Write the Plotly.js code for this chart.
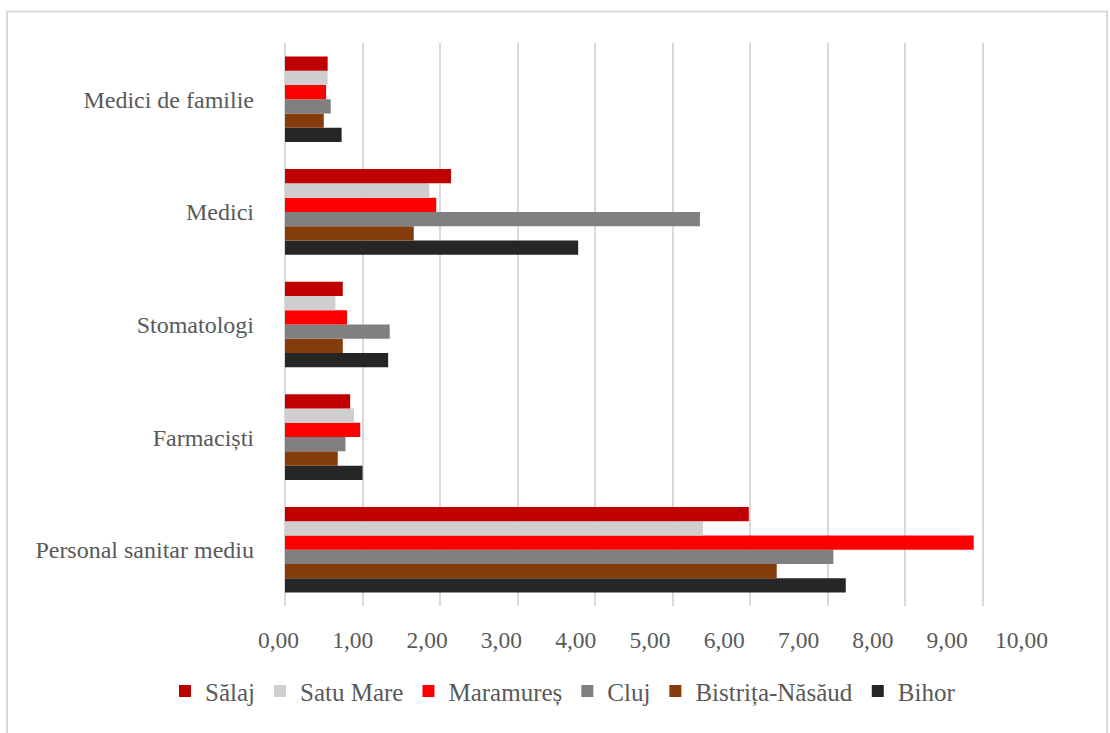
<!DOCTYPE html>
<html>
<head>
<meta charset="utf-8">
<script src="https://cdn.plot.ly/plotly-3.0.1.min.js"></script>
<style>html,body{margin:0;padding:0;background:#fff;}#chart{width:1110px;height:733px;}</style>
</head>
<body>
<div id="chart"></div>
<script>
// categories, bottom to top
const categories = ['Personal sanitar mediu', 'Farmaciști', 'Stomatologi', 'Medici', 'Medici de familie'];

// series values (same order as categories)
const bihor          = [7.23, 1.00, 1.33, 3.78, 0.73];
const bistritaNasaud = [6.34, 0.68, 0.745, 1.66, 0.50];
const cluj           = [7.07, 0.78, 1.35, 5.35, 0.59];
const maramures      = [8.88, 0.97, 0.80, 1.95, 0.53];
const satuMare       = [5.39, 0.89, 0.65, 1.86, 0.55];
const salaj          = [5.98, 0.84, 0.745, 2.14, 0.55];

const seriesNames = ['Bihor', 'Bistrița-Năsăud', 'Cluj', 'Maramureș', 'Satu Mare', 'Sălaj'];
const seriesValues = [bihor, bistritaNasaud, cluj, maramures, satuMare, salaj];
const seriesColors = ['#262626', '#843C0C', '#808080', '#FF0000', '#D0CECE', '#C00000'];

const xTickValues = [0,1,2,3,4,5,6,7,8,9,10];
const xTickLabels = ['0,00','1,00','2,00','3,00','4,00','5,00','6,00','7,00','8,00','9,00','10,00'];

const font = 'Liberation Serif';
const textColor = '#595959';

const traces = seriesNames.map((name, i) => ({
  type: 'bar',
  orientation: 'h',
  name: name,
  y: categories,
  x: seriesValues[i],
  marker: {color: seriesColors[i], line: {width: 0}},
  hoverinfo: 'x+name'
}));

// label axis (the reference prints its value labels on a slightly tighter pitch than the grid)
traces.push({
  type: 'scatter', mode: 'none', xaxis: 'x2', yaxis: 'y',
  x: xTickValues, y: xTickValues.map(() => categories[0]),
  showlegend: false, hoverinfo: 'skip', cliponaxis: false
});

const ML = 250, L = 285, R = 1061, T = 42.5, B = 606.5;
const px = v => (v - ML) / (R - ML);
const py = v => (B - v) / (B - T);

const layout = {
  width: 1110, height: 733,
  margin: {l: ML, r: 1110 - R, t: T, b: 733 - B, pad: 0},
  paper_bgcolor: '#ffffff', plot_bgcolor: 'rgba(0,0,0,0)',
  barmode: 'group', bargap: 0.24, bargroupgap: 0,
  font: {family: font, size: 24, color: textColor},
  showlegend: true,
  legend: {
    orientation: 'h', traceorder: 'reversed',
    x: px(165), xanchor: 'left', y: py(692), yanchor: 'middle',
    font: {family: font, size: 25, color: textColor},
    bgcolor: 'rgba(0,0,0,0)'
  },
  xaxis: {
    domain: [px(L), 1],
    range: [0, 10.005], tickvals: xTickValues, showticklabels: false,
    showgrid: true, gridcolor: '#d9d9d9', gridwidth: 2,
    zeroline: true, zerolinecolor: '#d9d9d9', zerolinewidth: 2,
    showline: false, ticks: '', fixedrange: true
  },
  xaxis2: {
    domain: [0, 1], anchor: 'free', position: 0, side: 'bottom',
    range: [-0.3836, 10.532], tickvals: xTickValues, ticktext: xTickLabels,
    showgrid: false, zeroline: false, showline: false, ticks: '',
    ticklabelstandoff: 17,
    tickfont: {family: font, size: 23.5, color: textColor}
  },
  yaxis: {
    type: 'category', categoryorder: 'array', categoryarray: categories,
    anchor: 'x',
    showgrid: false, zeroline: false, showline: false, ticks: '',
    ticklabelstandoff: 30,
    tickfont: {family: font, size: 24, color: textColor}
  },
  shapes: [{
    type: 'rect', xref: 'paper', yref: 'paper',
    x0: px(7), x1: px(1107), y0: py(740), y1: py(11),
    line: {color: '#d9d9d9', width: 2}, fillcolor: 'rgba(0,0,0,0)', layer: 'below'
  }]
};

Plotly.newPlot('chart', traces, layout, {staticPlot: true});
</script>
</body>
</html>
